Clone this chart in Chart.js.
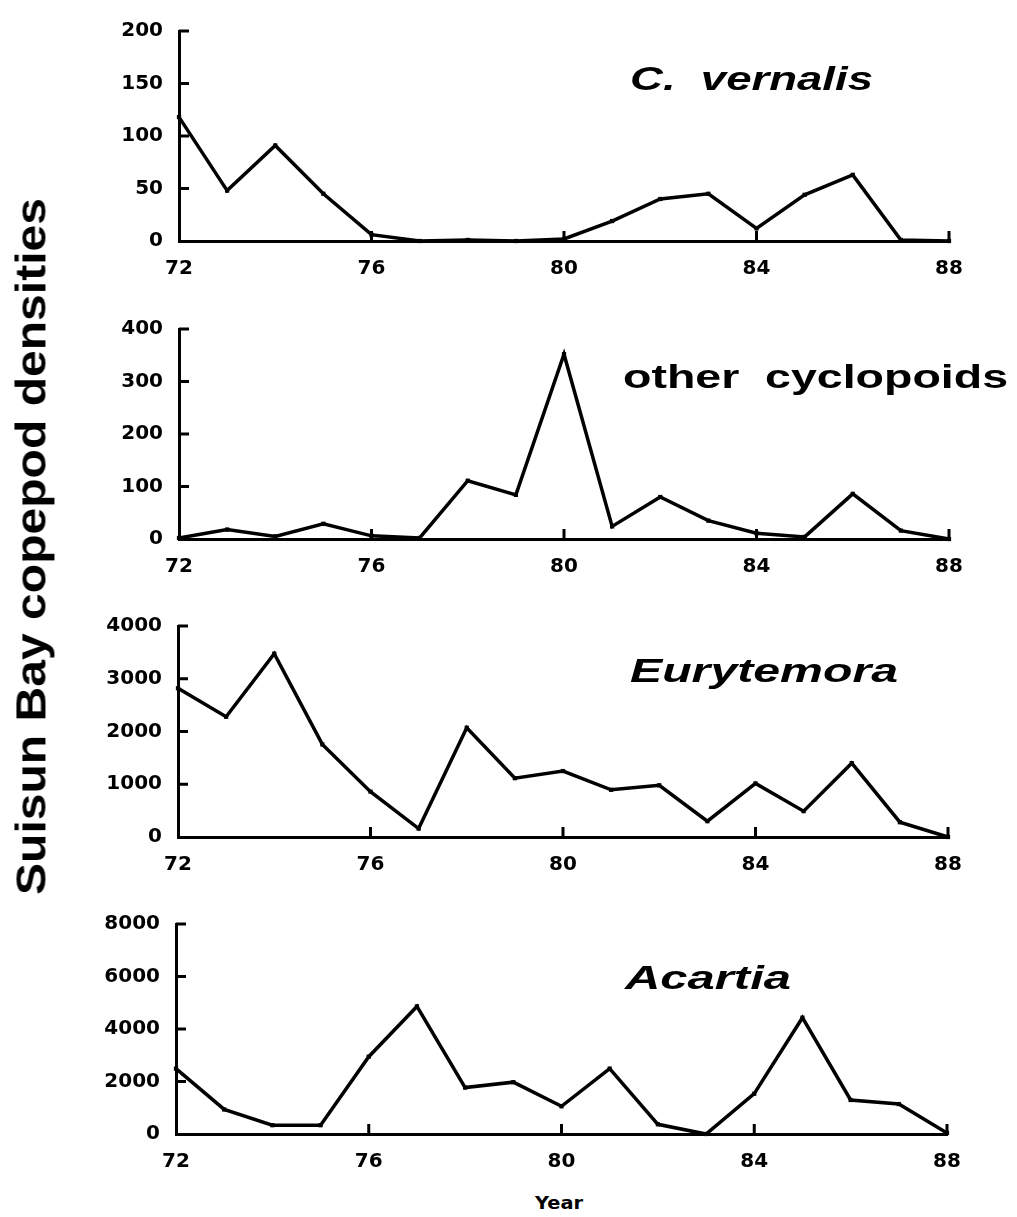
<!DOCTYPE html>
<html>
<head>
<meta charset="utf-8">
<script src="https://cdn.jsdelivr.net/npm/chart.js@4.4.1/dist/chart.umd.min.js"></script>
<style>
  html, body { margin: 0; padding: 0; background: #fff; }
  #wrap { position: relative; width: 1017px; height: 1217px; background: #fff; overflow: hidden; }
  .panel { position: absolute; left: 0; width: 1017px; }
  .lbl { position: absolute; left: 0; top: 0; white-space: nowrap; color: #000; line-height: 1; transform-origin: 0 0; }
</style>
</head>
<body>
<div id="wrap"></div>
<script>
// ---------------- data ----------------
const years = [72, 73, 74, 75, 76, 77, 78, 79, 80, 81, 82, 83, 84, 85, 86, 87, 88];
const xTicks = [72, 76, 80, 84, 88];

const vernalis   = [118, 48, 91, 45, 6, 0, 1, 0, 2, 19, 40, 45, 12, 44, 63, 1, 0];
const cyclopoids = [2, 18, 5, 29, 6, 2, 111, 84, 352, 24, 80, 35, 11, 4, 86, 16, 0];
const eurytemora = [2820, 2280, 3475, 1755, 860, 160, 2070, 1115, 1250, 895, 980, 300, 1015, 490, 1400, 280, 0];
const acartia    = [2490, 935, 335, 335, 2945, 4860, 1770, 1975, 1055, 2490, 370, 0, 1535, 4430, 1295, 1140, 40];

const vernalisTicks   = [0, 50, 100, 150, 200];
const cyclopoidsTicks = [0, 100, 200, 300, 400];
const eurytemoraTicks = [0, 1000, 2000, 3000, 4000];
const acartiaTicks    = [0, 2000, 4000, 6000, 8000];

const panelNames = ['C.  vernalis', 'other  cyclopoids', 'Eurytemora', 'Acartia'];
const yTitle = 'Suisun Bay copepod densities';
const xTitle = 'Year';

// ---------------- layout ----------------
const panels = [
  { values: vernalis,   ticks: vernalisTicks,   area: { left: 179, right: 949, top: 19,  bottom: 241 },  name: { left: 630, base: 90,  width: 243, italic: true } },
  { values: cyclopoids, ticks: cyclopoidsTicks, area: { left: 179, right: 949, top: 317, bottom: 539 },  name: { left: 623, base: 388, width: 385, italic: false } },
  { values: eurytemora, ticks: eurytemoraTicks, area: { left: 178, right: 948, top: 614, bottom: 837 },  name: { left: 630, base: 682, width: 268, italic: true } },
  { values: acartia,    ticks: acartiaTicks,    area: { left: 176, right: 947, top: 912, bottom: 1134 }, name: { left: 625, base: 989, width: 166, italic: true } }
];

const PAD_TOP = 16, X_H = 45;
const tickFont = { family: 'DejaVu Sans', weight: 'bold', size: 20 };
const wrap = document.getElementById('wrap');

const innerTicks = {
  id: 'innerTicks',
  afterDraw(chart) {
    const ctx = chart.ctx, x = chart.scales.x, y = chart.scales.y, a = chart.chartArea;
    ctx.save();
    ctx.strokeStyle = '#000';
    ctx.lineWidth = 3;
    ctx.beginPath();
    x.ticks.forEach(t => {
      if (t.value === x.min) return;
      const px = x.getPixelForValue(t.value);
      ctx.moveTo(px, a.bottom);
      ctx.lineTo(px, a.bottom - 10);
    });
    y.ticks.forEach(t => {
      if (t.value === y.min) return;
      const py = y.getPixelForValue(t.value);
      ctx.moveTo(a.left, py);
      ctx.lineTo(a.left + 10, py);
    });
    ctx.stroke();
    ctx.restore();
  }
};

panels.forEach((p, i) => {
  const a = p.area;
  const h = (a.bottom - a.top) + PAD_TOP + X_H;
  const div = document.createElement('div');
  div.className = 'panel';
  div.style.top = (a.top - PAD_TOP) + 'px';
  div.style.height = h + 'px';
  const cv = document.createElement('canvas');
  cv.width = 1017; cv.height = h;
  cv.style.width = '1017px'; cv.style.height = h + 'px';
  div.appendChild(cv);
  wrap.appendChild(div);

  new Chart(cv, {
    type: 'line',
    data: {
      datasets: [{
        data: years.map((yr, k) => ({ x: yr, y: p.values[k] })),
        borderColor: '#000',
        backgroundColor: '#000',
        borderWidth: 3.5,
        pointRadius: 3,
        pointStyle: 'rect',
        pointBorderWidth: 0,
        tension: 0,
        clip: false
      }]
    },
    options: {
      responsive: false,
      animation: false,
      devicePixelRatio: 1,
      layout: { padding: { top: PAD_TOP, right: 1017 - a.right, left: 0, bottom: 0 } },
      plugins: { legend: { display: false }, tooltip: { enabled: false } },
      scales: {
        x: {
          type: 'linear',
          min: years[0], max: years[years.length - 1],
          afterBuildTicks: s => { s.ticks = xTicks.map(v => ({ value: v })); },
          ticks: { color: '#000', font: tickFont, padding: 16, maxRotation: 0, autoSkip: false, callback: v => String(v) },
          grid: { display: true, drawOnChartArea: false, drawTicks: false },
          border: { display: true, color: '#000', width: 3 },
          afterFit: s => { s.height = X_H; }
        },
        y: {
          type: 'linear',
          min: p.ticks[0], max: p.ticks[p.ticks.length - 1],
          afterBuildTicks: s => { s.ticks = p.ticks.map(v => ({ value: v })); },
          ticks: { color: '#000', font: tickFont, padding: 16, callback: v => String(v) },
          grid: { display: true, drawOnChartArea: false, drawTicks: false },
          border: { display: true, color: '#000', width: 3 },
          afterFit: s => { s.width = a.left; }
        }
      }
    },
    plugins: [innerTicks]
  });
});

// ---------------- text labels ----------------
const mctx = document.createElement('canvas').getContext('2d');
function addLabel(text, family, weight, style, size, left, base, width, rotate) {
  const el = document.createElement('div');
  el.className = 'lbl';
  el.textContent = text;
  el.style.fontFamily = family;
  el.style.fontWeight = weight;
  el.style.fontStyle = style;
  el.style.fontSize = size + 'px';
  el.style.whiteSpace = 'pre';
  wrap.appendChild(el);
  mctx.font = style + ' ' + weight + ' ' + size + 'px ' + family;
  const natural = mctx.measureText(text).width;
  const sx = width / natural;
  const baseOff = 0.85 * size;
  if (rotate) {
    el.style.transform = `translate(${left - baseOff}px, ${base}px) rotate(-90deg) scaleX(${sx})`;
  } else {
    el.style.transform = `translate(${left}px, ${base - baseOff}px) scaleX(${sx})`;
  }
}

panels.forEach((p, i) => {
  const n = p.name;
  addLabel(panelNames[i], '"Liberation Sans"', 'bold', n.italic ? 'italic' : 'normal', 34, n.left, n.base, n.width, false);
});
addLabel(yTitle, '"Liberation Sans"', 'bold', 'normal', 43, 46, 895, 697, true);
addLabel(xTitle, '"DejaVu Sans"', 'bold', 'normal', 18, 535, 1209, 48, false);
</script>
</body>
</html>
